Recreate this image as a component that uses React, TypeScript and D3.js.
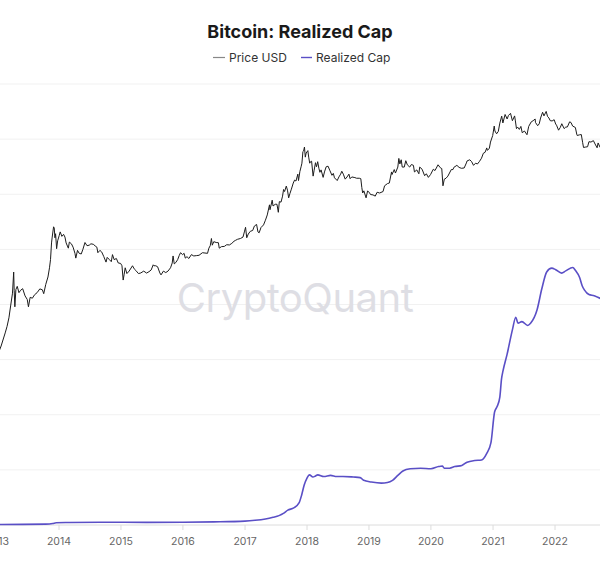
import React from "react";
import * as d3 from "d3";

const chartTitle = "Bitcoin: Realized Cap";
const legendNames = ["Price USD", "Realized Cap"];
const yearTicks = [2013, 2014, 2015, 2016, 2017, 2018, 2019, 2020, 2021, 2022];
const capGridTicks = [0, 100, 200, 300, 400, 500, 600, 700, 800];

// Price USD (log scale)
const priceUSD: [string, number][] = [
  ["2013-01-10", 13.5], ["2013-01-25", 17], ["2013-02-05", 21], ["2013-02-18", 27], ["2013-03-01", 34],
  ["2013-03-12", 46], ["2013-03-22", 70], ["2013-04-02", 110], ["2013-04-09", 232], ["2013-04-12", 120],
  ["2013-04-16", 68], ["2013-04-22", 125], ["2013-04-30", 140], ["2013-05-10", 112], ["2013-05-20", 122],
  ["2013-06-01", 129], ["2013-06-15", 100], ["2013-06-28", 88], ["2013-07-05", 68], ["2013-07-15", 95],
  ["2013-07-28", 92], ["2013-08-10", 104], ["2013-08-25", 112], ["2013-09-10", 128], ["2013-09-25", 124],
  ["2013-10-03", 108], ["2013-10-15", 150], ["2013-10-28", 195], ["2013-11-06", 270], ["2013-11-12", 360],
  ["2013-11-18", 650], ["2013-11-22", 800], ["2013-11-30", 1150], ["2013-12-04", 1100], ["2013-12-08", 780],
  ["2013-12-12", 900], ["2013-12-18", 530], ["2013-12-24", 700], ["2014-01-02", 840], ["2014-01-08", 960],
  ["2014-01-18", 820], ["2014-01-28", 880], ["2014-02-05", 800], ["2014-02-12", 650], ["2014-02-25", 540],
  ["2014-03-03", 670], ["2014-03-15", 630], ["2014-03-25", 560], ["2014-04-05", 450], ["2014-04-10", 380],
  ["2014-04-20", 500], ["2014-04-30", 450], ["2014-05-12", 440], ["2014-05-22", 520], ["2014-06-03", 660],
  ["2014-06-15", 590], ["2014-06-28", 600], ["2014-07-08", 630], ["2014-07-22", 620], ["2014-08-02", 585],
  ["2014-08-12", 560], ["2014-08-18", 460], ["2014-08-30", 500], ["2014-09-10", 470], ["2014-09-22", 400],
  ["2014-10-05", 330], ["2014-10-12", 390], ["2014-10-25", 360], ["2014-11-05", 335], ["2014-11-12", 430],
  ["2014-11-22", 360], ["2014-12-05", 375], ["2014-12-16", 320], ["2014-12-30", 315], ["2015-01-07", 290],
  ["2015-01-14", 175], ["2015-01-20", 215], ["2015-01-26", 270], ["2015-02-05", 220], ["2015-02-18", 240],
  ["2015-03-10", 290], ["2015-03-20", 260], ["2015-03-30", 245], ["2015-04-14", 220], ["2015-04-28", 225],
  ["2015-05-15", 240], ["2015-06-01", 224], ["2015-06-15", 235], ["2015-06-28", 250], ["2015-07-10", 300],
  ["2015-07-14", 290], ["2015-07-25", 290], ["2015-08-05", 280], ["2015-08-18", 225], ["2015-08-25", 210],
  ["2015-09-08", 240], ["2015-09-22", 228], ["2015-10-05", 240], ["2015-10-20", 270], ["2015-10-30", 320],
  ["2015-11-04", 410], ["2015-11-11", 310], ["2015-11-20", 325], ["2015-12-01", 360], ["2015-12-10", 415],
  ["2015-12-18", 460], ["2015-12-30", 430], ["2016-01-08", 450], ["2016-01-15", 380], ["2016-01-25", 400],
  ["2016-02-05", 375], ["2016-02-20", 430], ["2016-03-05", 410], ["2016-03-20", 415], ["2016-04-05", 420],
  ["2016-04-25", 460], ["2016-05-10", 455], ["2016-05-25", 450], ["2016-06-02", 540], ["2016-06-10", 590],
  ["2016-06-17", 760], ["2016-06-22", 600], ["2016-07-01", 680], ["2016-07-15", 660], ["2016-07-28", 655],
  ["2016-08-02", 540], ["2016-08-15", 570], ["2016-09-01", 575], ["2016-09-15", 610], ["2016-10-01", 605],
  ["2016-10-15", 640], ["2016-10-28", 690], ["2016-11-05", 710], ["2016-11-18", 740], ["2016-12-05", 760],
  ["2016-12-20", 800], ["2016-12-28", 960], ["2017-01-04", 1130], ["2017-01-11", 780], ["2017-01-20", 890],
  ["2017-02-01", 980], ["2017-02-15", 1010], ["2017-02-25", 1180], ["2017-03-10", 1250], ["2017-03-18", 960],
  ["2017-03-25", 930], ["2017-04-05", 1120], ["2017-04-20", 1230], ["2017-05-01", 1450], ["2017-05-12", 1750],
  ["2017-05-25", 2500], ["2017-05-28", 2100], ["2017-06-10", 2950], ["2017-06-15", 2400], ["2017-06-28", 2550],
  ["2017-07-08", 2550], ["2017-07-16", 1920], ["2017-07-22", 2800], ["2017-08-01", 2750], ["2017-08-10", 3400],
  ["2017-08-16", 4300], ["2017-08-22", 4000], ["2017-09-01", 4850], ["2017-09-08", 4200], ["2017-09-15", 3200],
  ["2017-09-22", 3700], ["2017-10-01", 4350], ["2017-10-12", 5400], ["2017-10-20", 6000], ["2017-10-28", 5800],
  ["2017-11-08", 7400], ["2017-11-12", 5900], ["2017-11-20", 8100], ["2017-11-28", 9800], ["2017-12-02", 10900],
  ["2017-12-08", 16500], ["2017-12-12", 16800], ["2017-12-17", 19300], ["2017-12-22", 13500], ["2017-12-27", 15600],
  ["2018-01-06", 17000], ["2018-01-11", 13500], ["2018-01-17", 10900], ["2018-01-22", 11500], ["2018-01-28", 11700],
  ["2018-02-06", 6900], ["2018-02-12", 8500], ["2018-02-20", 11100], ["2018-02-26", 9600], ["2018-03-05", 11500],
  ["2018-03-12", 9100], ["2018-03-18", 7900], ["2018-03-25", 8600], ["2018-04-06", 6600], ["2018-04-14", 8000],
  ["2018-04-24", 9600], ["2018-05-05", 9800], ["2018-05-15", 8500], ["2018-05-28", 7100], ["2018-06-05", 7600],
  ["2018-06-12", 6500], ["2018-06-28", 5900], ["2018-07-08", 6700], ["2018-07-18", 7400], ["2018-07-25", 8200],
  ["2018-08-03", 7400], ["2018-08-14", 6200], ["2018-08-25", 6700], ["2018-09-05", 7400], ["2018-09-12", 6300],
  ["2018-09-22", 6700], ["2018-10-10", 6550], ["2018-10-20", 6400], ["2018-11-05", 6400], ["2018-11-14", 6300],
  ["2018-11-20", 4600], ["2018-11-25", 3800], ["2018-12-02", 4100], ["2018-12-15", 3200], ["2018-12-24", 4100],
  ["2019-01-05", 3800], ["2019-01-10", 3600], ["2019-01-25", 3550], ["2019-02-07", 3400], ["2019-02-18", 3900],
  ["2019-03-05", 3800], ["2019-03-25", 4000], ["2019-04-03", 4900], ["2019-04-20", 5300], ["2019-05-01", 5400],
  ["2019-05-14", 8000], ["2019-05-17", 7300], ["2019-05-30", 8700], ["2019-06-06", 7700], ["2019-06-20", 9500],
  ["2019-06-26", 12900], ["2019-07-02", 10600], ["2019-07-10", 12300], ["2019-07-16", 9500], ["2019-07-28", 9500],
  ["2019-08-06", 11900], ["2019-08-15", 10300], ["2019-08-29", 9500], ["2019-09-08", 10400], ["2019-09-20", 10100],
  ["2019-09-26", 8000], ["2019-10-10", 8600], ["2019-10-22", 7500], ["2019-10-27", 9500], ["2019-11-10", 8800],
  ["2019-11-25", 7000], ["2019-12-05", 7500], ["2019-12-17", 6600], ["2019-12-30", 7300], ["2020-01-15", 8800],
  ["2020-01-25", 8400], ["2020-02-12", 10300], ["2020-02-25", 9300], ["2020-03-05", 9000], ["2020-03-12", 4900],
  ["2020-03-20", 6200], ["2020-03-30", 6400], ["2020-04-10", 6900], ["2020-04-30", 8700], ["2020-05-10", 8700],
  ["2020-05-15", 9400], ["2020-06-02", 10100], ["2020-06-15", 9400], ["2020-06-28", 9100], ["2020-07-15", 9200],
  ["2020-07-28", 11000], ["2020-08-01", 11800], ["2020-08-17", 12300], ["2020-08-28", 11500], ["2020-09-08", 10100],
  ["2020-09-20", 10900], ["2020-10-01", 10600], ["2020-10-12", 11500], ["2020-10-25", 13000], ["2020-11-05", 15500],
  ["2020-11-15", 16000], ["2020-11-25", 18700], ["2020-11-28", 17200], ["2020-12-10", 18300], ["2020-12-17", 23000],
  ["2020-12-30", 29000], ["2021-01-08", 40500], ["2021-01-12", 34000], ["2021-01-22", 30800], ["2021-02-01", 33500],
  ["2021-02-10", 45000], ["2021-02-21", 57500], ["2021-02-28", 45200], ["2021-03-13", 61000], ["2021-03-25", 52000],
  ["2021-04-02", 59000], ["2021-04-14", 63500], ["2021-04-25", 49000], ["2021-05-08", 58000], ["2021-05-12", 50000],
  ["2021-05-19", 37000], ["2021-05-26", 39000], ["2021-06-05", 36000], ["2021-06-14", 40000], ["2021-06-22", 32000],
  ["2021-07-05", 34000], ["2021-07-20", 29800], ["2021-07-30", 40000], ["2021-08-14", 47000], ["2021-08-25", 48900],
  ["2021-09-06", 52000], ["2021-09-08", 46000], ["2021-09-21", 41000], ["2021-09-30", 43800], ["2021-10-08", 53800],
  ["2021-10-20", 66000], ["2021-10-28", 58000], ["2021-11-10", 68000], ["2021-11-18", 57000], ["2021-11-26", 54000],
  ["2021-12-04", 49000], ["2021-12-15", 48500], ["2021-12-27", 50700], ["2022-01-05", 43500], ["2022-01-10", 41800],
  ["2022-01-22", 35000], ["2022-02-01", 38500], ["2022-02-10", 44000], ["2022-02-24", 37000], ["2022-03-05", 39000],
  ["2022-03-15", 39300], ["2022-03-28", 47000], ["2022-04-05", 46000], ["2022-04-15", 40500], ["2022-05-01", 38500],
  ["2022-05-09", 30500], ["2022-05-12", 29000], ["2022-05-25", 29700], ["2022-06-05", 30000], ["2022-06-13", 22500],
  ["2022-06-18", 19000], ["2022-07-01", 19300], ["2022-07-12", 19500], ["2022-07-20", 23300], ["2022-08-01", 23000],
  ["2022-08-15", 24200], ["2022-08-25", 21500], ["2022-09-06", 18800], ["2022-09-12", 22300], ["2022-09-24", 19000],
];

// Realized Cap in billions USD (linear scale)
const realizedCapB: [string, number][] = [
  ["2013-01-01", 0.9], ["2013-06-01", 1.2], ["2013-10-15", 1.5], ["2013-11-25", 2.6], ["2013-12-15", 4.0],
  ["2014-03-01", 4.5], ["2014-09-01", 5.0], ["2015-06-01", 4.8], ["2016-01-01", 5.0], ["2016-07-01", 5.6],
  ["2016-12-31", 7.0], ["2017-03-01", 8.5], ["2017-05-01", 11], ["2017-06-15", 14], ["2017-07-20", 17],
  ["2017-08-15", 21], ["2017-09-10", 27], ["2017-10-15", 31], ["2017-11-15", 40], ["2017-12-01", 55],
  ["2017-12-15", 72], ["2018-01-01", 85], ["2018-01-15", 91], ["2018-02-05", 87], ["2018-02-20", 89],
  ["2018-03-05", 91], ["2018-04-10", 88], ["2018-05-20", 90], ["2018-06-25", 88], ["2018-08-01", 88],
  ["2018-10-01", 87], ["2018-11-10", 86], ["2018-12-01", 81], ["2019-01-15", 78], ["2019-03-15", 76],
  ["2019-04-20", 77], ["2019-05-20", 81], ["2019-06-20", 90], ["2019-07-20", 98], ["2019-09-01", 102],
  ["2019-11-01", 103], ["2020-01-01", 102], ["2020-02-15", 106], ["2020-03-08", 107], ["2020-03-20", 103],
  ["2020-04-20", 103], ["2020-05-20", 106], ["2020-07-01", 108], ["2020-08-01", 114], ["2020-09-15", 117],
  ["2020-10-25", 118], ["2020-11-25", 130], ["2020-12-20", 150], ["2021-01-10", 205], ["2021-01-25", 215],
  ["2021-02-10", 232], ["2021-02-20", 265], ["2021-03-01", 280], ["2021-03-25", 310], ["2021-04-25", 354],
  ["2021-05-15", 377], ["2021-05-28", 366], ["2021-06-20", 369], ["2021-07-24", 362], ["2021-08-10", 366],
  ["2021-09-17", 390], ["2021-10-15", 428], ["2021-11-13", 459], ["2021-12-13", 466], ["2022-01-05", 463],
  ["2022-02-09", 457], ["2022-03-05", 461], ["2022-04-16", 467], ["2022-05-01", 462], ["2022-05-26", 449],
  ["2022-06-10", 434], ["2022-06-24", 426], ["2022-07-20", 418], ["2022-08-20", 416], ["2022-09-25", 411],
];

const W = 600;
const H = 576;
const font = "Inter, 'Noto Sans', sans-serif";

export default function App() {
  const parse = d3.timeParse("%Y-%m-%d");
  const x = d3
    .scaleTime()
    .domain([new Date(2014, 0, 1), new Date(2022, 0, 1)])
    .range([59, 555]);
  const yCap = d3.scaleLinear().domain([0, 800]).range([525, 84]);
  const yPrice = d3.scaleLog().domain([10, 100000]).range([361, 100.5]);

  const priceLine = d3
    .line<[string, number]>()
    .x((d) => x(parse(d[0]) as Date))
    .y((d) => yPrice(d[1]));
  const capLine = d3
    .line<[string, number]>()
    .x((d) => x(parse(d[0]) as Date))
    .y((d) => yCap(d[1]))
    .curve(d3.curveMonotoneX);

  return (
    <svg
      width={W}
      height={H}
      style={{ position: "absolute", left: 0, top: 0, background: "#fff" }}
      fontFamily={font}
    >
      <rect x={0} y={0} width={W} height={H} fill="#fff" />
      {capGridTicks.map((t) => (
        <line
          key={t}
          x1={0}
          x2={W}
          y1={yCap(t)}
          y2={yCap(t)}
          stroke={t === 0 ? "#dcdcdc" : "#f1f1f1"}
          strokeWidth={1}
        />
      ))}
      {yearTicks.map((yr) => {
        const px = x(new Date(yr, 0, 1));
        return (
          <g key={yr}>
            <line x1={px} x2={px} y1={525} y2={530} stroke="#dcdcdc" />
            <text
              x={px}
              y={545}
              textAnchor="middle"
              fontSize={10.5}
              fill="#666"
            >
              {yr}
            </text>
          </g>
        );
      })}
      <text
        x={295}
        y={312}
        textAnchor="middle"
        fontSize={40}
        fontWeight={400}
        fill="#dedee4"
        letterSpacing={-0.5}
      >
        CryptoQuant
      </text>
      <path
        d={capLine(realizedCapB) || ""}
        fill="none"
        stroke="#5a4fc6"
        strokeWidth={1.6}
      />
      <path
        d={priceLine(priceUSD) || ""}
        fill="none"
        stroke="#1c1c1c"
        strokeWidth={1}
        strokeLinejoin="round"
      />
      <text
        x={300}
        y={38}
        textAnchor="middle"
        fontSize={18}
        fontWeight={700}
        fill="#1a1a1a"
      >
        {chartTitle}
      </text>
      <g fontSize={12} fill="#333">
        <line x1={213} x2={225} y1={57.5} y2={57.5} stroke="#888" strokeWidth={1.2} />
        <text x={229} y={62}>{legendNames[0]}</text>
        <line x1={301} x2={312} y1={57.5} y2={57.5} stroke="#5a4fc6" strokeWidth={1.4} />
        <text x={316} y={62}>{legendNames[1]}</text>
      </g>
    </svg>
  );
}
